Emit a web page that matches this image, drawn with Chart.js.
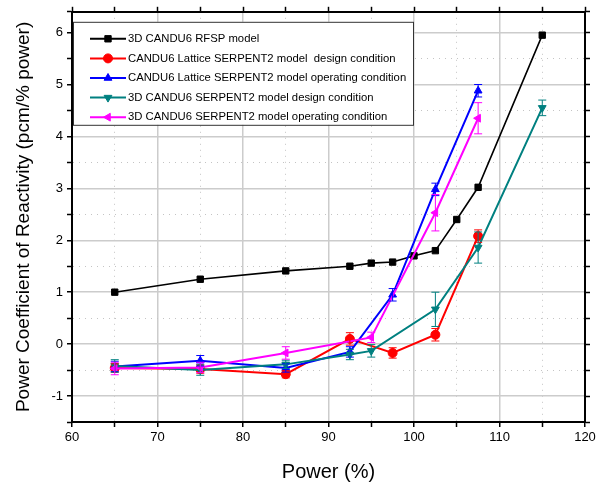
<!DOCTYPE html>
<html>
<head>
<meta charset="utf-8">
<script src="https://cdn.jsdelivr.net/npm/chart.js@4/dist/chart.umd.min.js"></script>
<style>
  body { margin: 0; background: #fff; }
  #wrap { width: 606px; height: 484px; }
</style>
</head>
<body>
<div id="wrap"><canvas id="chart" width="606" height="484"></canvas></div>
<script>
// values
const rfspPower = [65, 75, 85, 92.5, 95, 97.5, 100, 102.5, 105, 107.5, 115];
const rfspPcr = [1.0, 1.25, 1.41, 1.5, 1.56, 1.58, 1.7, 1.8, 2.4, 3.02, 5.95];

const latDesignPower = [65, 75, 85, 92.5, 97.5, 102.5, 107.5];
const latDesignPcr = [-0.46, -0.48, -0.58, 0.1, -0.17, 0.18, 2.08];
const latDesignErr = [0.08, 0.08, 0.07, 0.12, 0.1, 0.12, 0.12];

const latOperPower = [65, 75, 85, 92.5, 97.5, 102.5, 107.5];
const latOperPcr = [-0.43, -0.32, -0.46, -0.15, 0.95, 2.98, 4.88];
const latOperErr = [0.1, 0.1, 0.08, 0.1, 0.12, 0.12, 0.12];

const cDesignPower = [65, 75, 85, 92.5, 95, 102.5, 107.5, 115];
const cDesignPcr = [-0.42, -0.5, -0.39, -0.2, -0.13, 0.67, 1.86, 4.55];
const cDesignErr = [0.12, 0.1, 0.08, 0.1, 0.12, 0.33, 0.3, 0.15];

const cOperPower = [65, 75, 85, 95, 102.5, 107.5];
const cOperPcr = [-0.47, -0.45, -0.17, 0.13, 2.53, 4.35];
const cOperErr = [0.12, 0.1, 0.12, 0.1, 0.35, 0.3];

const seriesNames = [
  '3D CANDU6 RFSP model',
  'CANDU6 Lattice SERPENT2 model  design condition',
  'CANDU6 Lattice SERPENT2 model operating condition',
  '3D CANDU6 SERPENT2 model design condition',
  '3D CANDU6 SERPENT2 model operating condition'
];

const xTicks = [60, 70, 80, 90, 100, 110, 120];
const yTicks = [-1, 0, 1, 2, 3, 4, 5, 6];

function pts(xs, ys) {
  return xs.map((x, i) => ({ x: x, y: ys[i] }));
}

const font = "'Liberation Sans', Arial, sans-serif";

function makeSet(label, xs, ys, err, color, style, rot, order, width) {
  return {
    label: label,
    data: pts(xs, ys),
    errors: err,
    borderColor: color,
    backgroundColor: color,
    borderWidth: width,
    pointStyle: style,
    rotation: rot,
    pointRadius: 4.5,
    pointBorderWidth: 1,
    pointHoverRadius: 4.5,
    order: order,
    tension: 0
  };
}

const datasets = [
  makeSet(seriesNames[0], rfspPower, rfspPcr, null, '#000000', 'rect', 0, 4, 1.6),
  makeSet(seriesNames[1], latDesignPower, latDesignPcr, latDesignErr, '#ff0000', 'circle', 0, 3, 2),
  makeSet(seriesNames[2], latOperPower, latOperPcr, latOperErr, '#0000ff', 'triangle', 0, 2, 2),
  makeSet(seriesNames[3], cDesignPower, cDesignPcr, cDesignErr, '#008080', 'triangle', 180, 1, 2),
  makeSet(seriesNames[4], cOperPower, cOperPcr, cOperErr, '#ff00ff', 'triangle', -90, 0, 2)
];

// error bars, placed through the chart's own scales
const errorBars = {
  id: 'errorBars',
  afterDatasetsDraw(chart) {
    const ctx = chart.ctx;
    const xs = chart.scales.x, ys = chart.scales.y;
    ctx.save();
    chart.data.datasets.forEach(ds => {
      if (!ds.errors) return;
      ctx.strokeStyle = ds.borderColor;
      ctx.lineWidth = 1;
      ds.data.forEach((p, i) => {
        const e = ds.errors[i];
        const px = xs.getPixelForValue(p.x);
        const top = ys.getPixelForValue(p.y + e);
        const bot = ys.getPixelForValue(p.y - e);
        ctx.beginPath();
        ctx.moveTo(px, top); ctx.lineTo(px, bot);
        ctx.moveTo(px - 4, top); ctx.lineTo(px + 4, top);
        ctx.moveTo(px - 4, bot); ctx.lineTo(px + 4, bot);
        ctx.stroke();
      });
    });
    ctx.restore();
  }
};

// boxed legend in the upper-left corner of the plot
const boxLegend = {
  id: 'boxLegend',
  afterDraw(chart) {
    const ctx = chart.ctx;
    const area = chart.chartArea;
    const bx = area.left + 1, by = area.top + 10, bw = 340, bh = 103;
    ctx.save();
    ctx.fillStyle = '#fff';
    ctx.fillRect(bx, by, bw, bh);
    ctx.strokeStyle = '#333';
    ctx.lineWidth = 1;
    ctx.strokeRect(bx + 0.5, by + 0.5, bw, bh);
    ctx.font = '11.3px ' + font;
    ctx.textBaseline = 'middle';
    chart.data.datasets.forEach((ds, i) => {
      const y = by + 17 + i * 19.6;
      ctx.strokeStyle = ds.borderColor;
      ctx.lineWidth = 2;
      ctx.beginPath();
      ctx.moveTo(bx + 17, y);
      ctx.lineTo(bx + 53, y);
      ctx.stroke();
      ctx.fillStyle = ds.backgroundColor;
      ctx.lineWidth = 1;
      Chart.helpers.drawPoint(ctx, {
        pointStyle: ds.pointStyle, rotation: ds.rotation, radius: 4.5, borderWidth: 1
      }, bx + 35, y);
      ctx.fillStyle = '#000';
      ctx.fillText(ds.label, bx + 55, y);
    });
    ctx.restore();
  }
};

const majorX = v => v % 10 === 0;
const majorY = v => Math.abs(v - Math.round(v)) < 1e-6;

new Chart(document.getElementById('chart').getContext('2d'), {
  type: 'line',
  data: { datasets: datasets },
  options: {
    responsive: false,
    animation: false,
    layout: { padding: 0 },
    plugins: { legend: { display: false }, tooltip: { enabled: false } },
    scales: {
      x: {
        type: 'linear',
        position: 'bottom',
        min: 60, max: 120,
        afterFit: s => { s.height = 62; },
        ticks: {
          stepSize: 5,
          padding: 3,
          color: '#000',
          font: { family: font, size: 13 },
          callback: v => (xTicks.includes(v) ? String(v) : '')
        },
        grid: {
          color: c => (c.tick && majorX(c.tick.value) ? '#cccccc' : '#c4c4c4'),
          lineWidth: c => (c.tick && majorX(c.tick.value) ? 1.5 : 1),
          tickColor: '#000',
          tickLength: 5,
          tickWidth: 1.5
        },
        border: { color: '#000', width: 2, dash: c => (c.tick && majorX(c.tick.value) ? [] : [1, 5]) },
        title: {
          display: true,
          text: 'Power (%)',
          color: '#000',
          font: { family: font, size: 20 },
          padding: { top: 0, bottom: 0 }
        }
      },
      x2: {
        type: 'linear',
        position: 'top',
        min: 60, max: 120,
        afterFit: s => { s.height = 10; },
        ticks: { stepSize: 5, callback: () => '', font: { size: 1 } },
        grid: { drawOnChartArea: false, tickColor: '#000', tickLength: 5, tickWidth: 1.5 },
        border: { color: '#000', width: 2 }
      },
      y: {
        type: 'linear',
        position: 'left',
        min: -1.5, max: 6.4,
        afterFit: s => { s.width = 72; },
        ticks: {
          stepSize: 0.5,
          padding: 4,
          color: '#000',
          font: { family: font, size: 13 },
          callback: v => (yTicks.includes(v) ? String(v) : '')
        },
        grid: {
          color: c => (c.tick && majorY(c.tick.value) ? '#cccccc' : '#c4c4c4'),
          lineWidth: c => (c.tick && majorY(c.tick.value) ? 1.5 : 1),
          tickColor: '#000',
          tickLength: 5,
          tickWidth: 1.5
        },
        border: { color: '#000', width: 2, dash: c => (c.tick && majorY(c.tick.value) ? [] : [1, 5]) },
        title: {
          display: true,
          text: 'Power Coefficient of Reactivity (pcm/% power)',
          color: '#000',
          font: { family: font, size: 19 },
          padding: { top: 12, bottom: 0 }
        }
      },
      y2: {
        type: 'linear',
        position: 'right',
        min: -1.5, max: 6.4,
        afterFit: s => { s.width = 21; },
        ticks: { stepSize: 0.5, callback: () => '', font: { size: 1 } },
        grid: { drawOnChartArea: false, tickColor: '#000', tickLength: 5, tickWidth: 1.5 },
        border: { color: '#000', width: 2 }
      }
    }
  },
  plugins: [errorBars, boxLegend]
});
</script>
</body>
</html>
